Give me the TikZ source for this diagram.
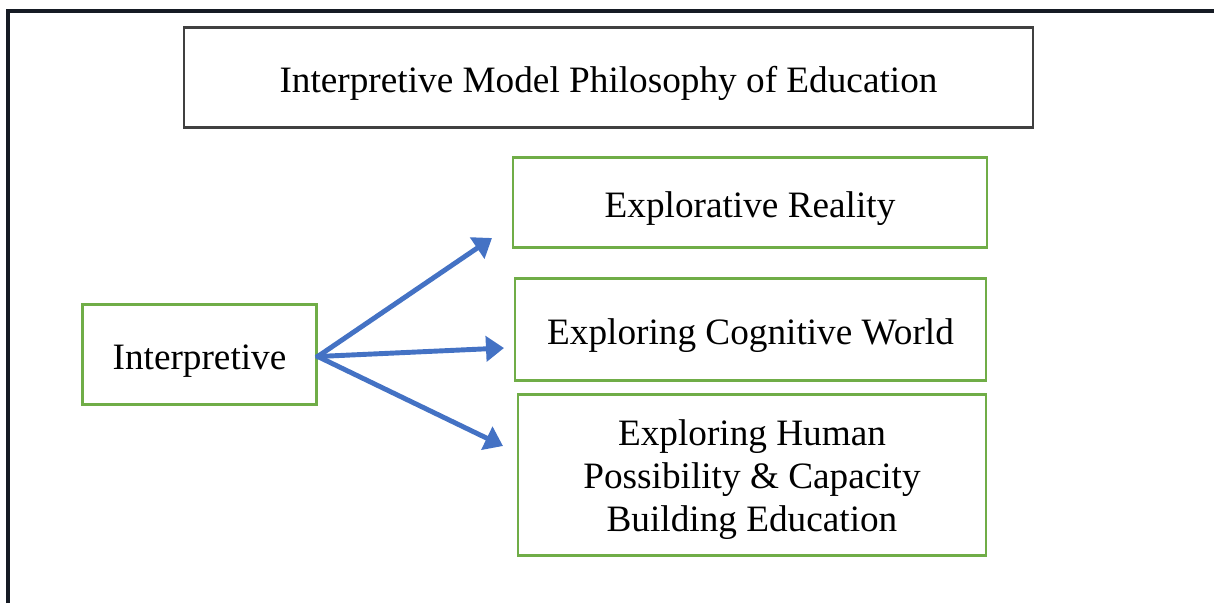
\documentclass[tikz,border=0pt]{standalone}
\usepackage{fontspec}
\setmainfont{Liberation Serif}
\usepackage{tikz}
\usetikzlibrary{calc,positioning, arrows.meta}

\definecolor{boxgreen}{HTML}{70AD47}
\definecolor{arrowblue}{HTML}{4472C4}
\definecolor{framedark}{HTML}{161B24}

\begin{document}
\begin{tikzpicture}[x=0.02cm, y=-0.02cm,
    box/.style={rectangle, draw=boxgreen, line width=1.4pt, inner sep=0pt, align=center, text height=21.5pt, text depth=4.5pt, font=\fontsize{21.2}{24.7}\selectfont},
    titlebox/.style={box, draw=black!75},
    link/.style={-{Triangle[length=0.36cm, width=0.5cm]}, draw=arrowblue, line width=2.8pt, shorten <=-1pt}]
    \useasboundingbox (0,0) rectangle (1214,603);
    % outer frame, cut at the right and bottom
    \draw[framedark, line width=2pt] (8,603) -- (8,11) -- (1214,11);

    \node[titlebox, minimum width=16.98cm, minimum height=2cm] (title) at (608.5,77.5) {Interpretive Model Philosophy of Education};

    \node[box, minimum width=9.48cm, minimum height=1.8cm] (reality) at (750,202.5) {Explorative Reality};
    \node[box, minimum width=9.42cm, minimum height=2.04cm] (cognitive) at (750.5,329.5) {Exploring Cognitive World};
    \node[box, minimum width=9.36cm, minimum height=3.22cm, text height=64.8pt, text depth=0pt] (human) at (752,475) {Exploring Human\\Possibility \& Capacity\\Building Education};

    \node[box, minimum width=4.68cm, minimum height=2cm] (interp) at (199.5,354.5) {Interpretive};

    \coordinate (toreality) at (492,238);
    \coordinate (tocognitive) at (504,348);
    \coordinate (tohuman) at (503,446);

    \draw[link] ($(interp.east)+(0,2)$) -- (toreality);
    \draw[link] ($(interp.east)+(0,2)$) -- (tocognitive);
    \draw[link] ($(interp.east)+(0,2)$) -- (tohuman);

\end{tikzpicture}
\end{document}
